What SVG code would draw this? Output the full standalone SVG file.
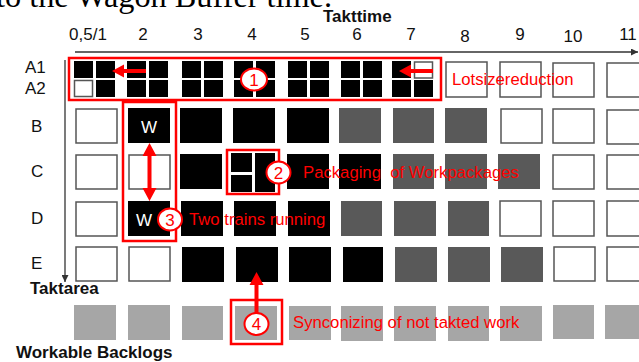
<svg xmlns="http://www.w3.org/2000/svg" width="639" height="362" viewBox="0 0 639 362">
  <style>
    .lbl { font-family: "Liberation Sans", Arial, sans-serif; font-size: 17px; fill: #111; }
    .bold { font-family: "Liberation Sans", Arial, sans-serif; font-size: 17px; font-weight: bold; fill: #111; }
    .red { font-family: "Liberation Sans", Arial, sans-serif; font-size: 16.7px; fill: #ff0000; }
    .num { font-family: "Liberation Sans", Arial, sans-serif; font-size: 17px; fill: #ff0000; text-anchor: middle; }
    .w { font-family: "Liberation Sans", Arial, sans-serif; font-size: 17px; fill: #fff; text-anchor: middle; }
    .blk { fill: #000; }
    .dk { fill: #595959; }
    .lt { fill: #a6a6a6; }
    .emp { fill: #fff; stroke: #555; stroke-width: 1.5; }
    .frame { fill: none; stroke: #ff0000; stroke-width: 2.5; }
    .badge { fill: #fff; stroke: #ff0000; stroke-width: 2; }
    .axis { stroke: #333; stroke-width: 1.3; fill: none; }
    .arr { fill: #ff0000; }
  </style>
  <defs>
    <marker id="axhead" viewBox="0 0 10 10" refX="10" refY="5" markerWidth="7" markerHeight="7" orient="auto" markerUnits="userSpaceOnUse">
      <path d="M0,0 L10,5 L0,10 z" fill="#333"/>
    </marker>
  </defs>

  <!-- running text above the chart -->
  <text x="-4" y="7" textLength="336" lengthAdjust="spacingAndGlyphs" style="font-family: 'Liberation Serif', 'Times New Roman', serif; font-size: 32px; fill: #000;">to the Wagon Buffer time.</text>

  <!-- axes -->
  <g id="axes">
    <line class="axis" x1="75" y1="52" x2="638" y2="52" marker-end="url(#axhead)"/>
    <line class="axis" x1="65" y1="60" x2="65" y2="282" marker-end="url(#axhead)"/>
    <text class="bold" x="323" y="22">Takttime</text>
    <text class="bold" x="30" y="294">Taktarea</text>
    <text class="bold" x="16" y="358">Workable Backlogs</text>
  </g>

  <!-- column headings -->
  <g id="col-labels" class="lbl" text-anchor="middle">
    <text x="88" y="40">0,5/1</text>
    <text x="143" y="40">2</text>
    <text x="198" y="40">3</text>
    <text x="252" y="40">4</text>
    <text x="305" y="40">5</text>
    <text x="357" y="40">6</text>
    <text x="411" y="40">7</text>
    <text x="465" y="42">8</text>
    <text x="520" y="40">9</text>
    <text x="573" y="42">10</text>
    <text x="628" y="40">11</text>
  </g>

  <!-- row headings -->
  <g id="row-labels" class="lbl">
    <text x="25" y="73">A1</text>
    <text x="25" y="94">A2</text>
    <text x="31" y="132">B</text>
    <text x="31" y="177">C</text>
    <text x="31" y="224">D</text>
    <text x="31" y="269">E</text>
  </g>

  <!-- row A: split lots -->
  <g id="row-A">
    <rect class="blk" x="74" y="61" width="19" height="17"/>
    <rect class="blk" x="96" y="61" width="19" height="17"/>
    <rect class="emp" x="74.5" y="80.5" width="18" height="16"/>
    <rect class="blk" x="96" y="80" width="19" height="17"/>

    <rect class="blk" x="127" y="61" width="19" height="17"/>
    <rect class="blk" x="149" y="61" width="19" height="17"/>
    <rect class="blk" x="127" y="80" width="19" height="17"/>
    <rect class="blk" x="149" y="80" width="19" height="17"/>

    <rect class="blk" x="182" y="61" width="19" height="17"/>
    <rect class="blk" x="204" y="61" width="19" height="17"/>
    <rect class="blk" x="182" y="80" width="19" height="17"/>
    <rect class="blk" x="204" y="80" width="19" height="17"/>

    <rect class="blk" x="234" y="61" width="19" height="17"/>
    <rect class="blk" x="256" y="61" width="19" height="17"/>
    <rect class="blk" x="234" y="80" width="19" height="17"/>
    <rect class="blk" x="256" y="80" width="19" height="17"/>

    <rect class="blk" x="288" y="61" width="19" height="17"/>
    <rect class="blk" x="310" y="61" width="19" height="17"/>
    <rect class="blk" x="288" y="80" width="19" height="17"/>
    <rect class="blk" x="310" y="80" width="19" height="17"/>

    <rect class="blk" x="341" y="61" width="19" height="17"/>
    <rect class="blk" x="363" y="61" width="19" height="17"/>
    <rect class="blk" x="341" y="80" width="19" height="17"/>
    <rect class="blk" x="363" y="80" width="19" height="17"/>

    <rect class="blk" x="392" y="61" width="19" height="17"/>
    <rect class="emp" x="414.5" y="62" width="18" height="16"/>
    <rect class="blk" x="392" y="80" width="19" height="17"/>
    <rect class="blk" x="414" y="80" width="19" height="17"/>

    <rect class="emp" x="446" y="62" width="41" height="35"/>
    <rect class="emp" x="500" y="62" width="41" height="35"/>
    <rect class="emp" x="553" y="63" width="41" height="34"/>
    <rect class="emp" x="607" y="63" width="41" height="34"/>
  </g>

  <!-- row B -->
  <g id="row-B">
    <rect class="emp" x="76" y="109" width="41" height="34"/>
    <rect class="blk" x="128" y="108" width="42" height="35"/>
    <text class="w" x="149" y="133">W</text>
    <rect class="blk" x="180" y="108" width="42" height="35"/>
    <rect class="blk" x="233" y="108" width="42" height="35"/>
    <rect class="blk" x="287" y="108" width="42" height="35"/>
    <rect class="dk" x="339" y="108" width="42" height="35"/>
    <rect class="dk" x="393" y="108" width="41" height="35"/>
    <rect class="dk" x="445" y="108" width="42" height="35"/>
    <rect class="emp" x="501" y="109" width="41" height="34"/>
    <rect class="emp" x="553" y="109" width="41" height="34"/>
    <rect class="emp" x="607" y="110" width="41" height="34"/>
  </g>

  <!-- row C -->
  <g id="row-C">
    <rect class="emp" x="76" y="155" width="41" height="34"/>
    <rect class="emp" x="129" y="155" width="41" height="34"/>
    <rect class="blk" x="180" y="154" width="42" height="35"/>
    <rect class="blk" x="231" y="153" width="21" height="19"/>
    <rect class="blk" x="231" y="175" width="21" height="17"/>
    <rect class="blk" x="255" y="153" width="20" height="39"/>
    <rect class="blk" x="287" y="154" width="42" height="35"/>
    <rect class="blk" x="339" y="154" width="42" height="35"/>
    <rect class="dk" x="393" y="154" width="41" height="35"/>
    <rect class="dk" x="445" y="154" width="42" height="35"/>
    <rect class="dk" x="498" y="154" width="42" height="35"/>
    <rect class="emp" x="553" y="155" width="41" height="34"/>
    <rect class="emp" x="607" y="155" width="41" height="34"/>
  </g>

  <!-- row D -->
  <g id="row-D">
    <rect class="emp" x="76" y="202" width="41" height="34"/>
    <rect class="blk" x="128" y="201" width="42" height="35"/>
    <text class="w" x="144" y="226">W</text>
    <rect class="blk" x="181" y="201" width="42" height="35"/>
    <rect class="blk" x="234" y="201" width="42" height="35"/>
    <rect class="blk" x="288" y="201" width="42" height="35"/>
    <rect class="dk" x="341" y="201" width="41" height="35"/>
    <rect class="dk" x="394" y="201" width="42" height="35"/>
    <rect class="dk" x="448" y="201" width="41" height="35"/>
    <rect class="emp" x="500" y="201" width="41" height="35"/>
    <rect class="emp" x="553" y="201" width="41" height="35"/>
    <rect class="emp" x="607" y="201" width="41" height="35"/>
  </g>

  <!-- row E -->
  <g id="row-E">
    <rect class="emp" x="76" y="247" width="41" height="34"/>
    <rect class="emp" x="129" y="247" width="41" height="34"/>
    <rect class="blk" x="182" y="247" width="42" height="35"/>
    <rect class="blk" x="236" y="247" width="42" height="35"/>
    <rect class="blk" x="289" y="247" width="42" height="35"/>
    <rect class="blk" x="343" y="247" width="40" height="35"/>
    <rect class="dk" x="395" y="247" width="42" height="35"/>
    <rect class="dk" x="448" y="247" width="42" height="35"/>
    <rect class="dk" x="501" y="247" width="42" height="35"/>
    <rect class="emp" x="554" y="247" width="41" height="34"/>
    <rect class="emp" x="607" y="247" width="41" height="34"/>
  </g>

  <!-- backlog row -->
  <g id="backlogs">
    <rect class="lt" x="74" y="305" width="42" height="35"/>
    <rect class="lt" x="128" y="305" width="42" height="35"/>
    <rect class="lt" x="182" y="306" width="41" height="34"/>
    <rect class="lt" x="235" y="306" width="42" height="34"/>
    <rect class="lt" x="289" y="306" width="42" height="34"/>
    <rect class="lt" x="341" y="306" width="42" height="35"/>
    <rect class="lt" x="394" y="306" width="42" height="35"/>
    <rect class="lt" x="448" y="306" width="41" height="35"/>
    <rect class="lt" x="500" y="306" width="42" height="35"/>
    <rect class="lt" x="553" y="305" width="41" height="34"/>
    <rect class="lt" x="605" y="305" width="42" height="34"/>
  </g>

  <!-- highlight frames -->
  <g id="frame-lotsize">
    <rect class="frame" x="69" y="58" width="372" height="42"/>
  </g>
  <g id="frame-trains">
    <rect class="frame" x="123" y="102" width="53" height="139"/>
  </g>
  <g id="frame-packaging">
    <rect class="frame" x="227" y="150" width="52" height="44"/>
  </g>
  <g id="frame-sync">
    <rect class="frame" x="231" y="300" width="51" height="44"/>
  </g>

  <!-- connectors -->
  <g id="connectors">
    <path class="arr" d="M112,71 L124,64.5 L124,69 L146,69 L146,73 L124,73 L124,77.5 z"/>
    <path class="arr" d="M399,71 L411,64.5 L411,69 L433,69 L433,73 L411,73 L411,77.5 z"/>
    <path class="arr" d="M149.5,143 L156.5,156 L151.5,156 L151.5,188 L156.5,188 L149.5,201 L142.5,188 L147.5,188 L147.5,156 L142.5,156 z"/>
    <path class="arr" d="M256.5,272 L263.5,285 L258.5,285 L258.5,314 L254.5,314 L254.5,285 L249.5,285 z"/>
  </g>

  <!-- numbered callouts -->
  <g id="callout-1">
    <ellipse class="badge" cx="254" cy="79.5" rx="13" ry="11"/>
    <text class="num" x="254" y="85.5">1</text>
    <text class="red" x="452" y="85">Lotsizereduction</text>
  </g>
  <g id="callout-2">
    <ellipse class="badge" cx="278.5" cy="172.5" rx="12" ry="11"/>
    <text class="num" x="278.5" y="178.5">2</text>
    <text class="red" x="303" y="178" xml:space="preserve">Packaging  of Workpackages</text>
  </g>
  <g id="callout-3">
    <ellipse class="badge" cx="170" cy="219.5" rx="12" ry="11"/>
    <text class="num" x="170" y="225.5">3</text>
    <text class="red" x="189" y="225">Two trains running</text>
  </g>
  <g id="callout-4">
    <ellipse class="badge" cx="256.5" cy="324" rx="12" ry="11"/>
    <text class="num" x="256.5" y="330">4</text>
    <text class="red" x="293" y="328">Synconizing of not takted work</text>
  </g>
</svg>
